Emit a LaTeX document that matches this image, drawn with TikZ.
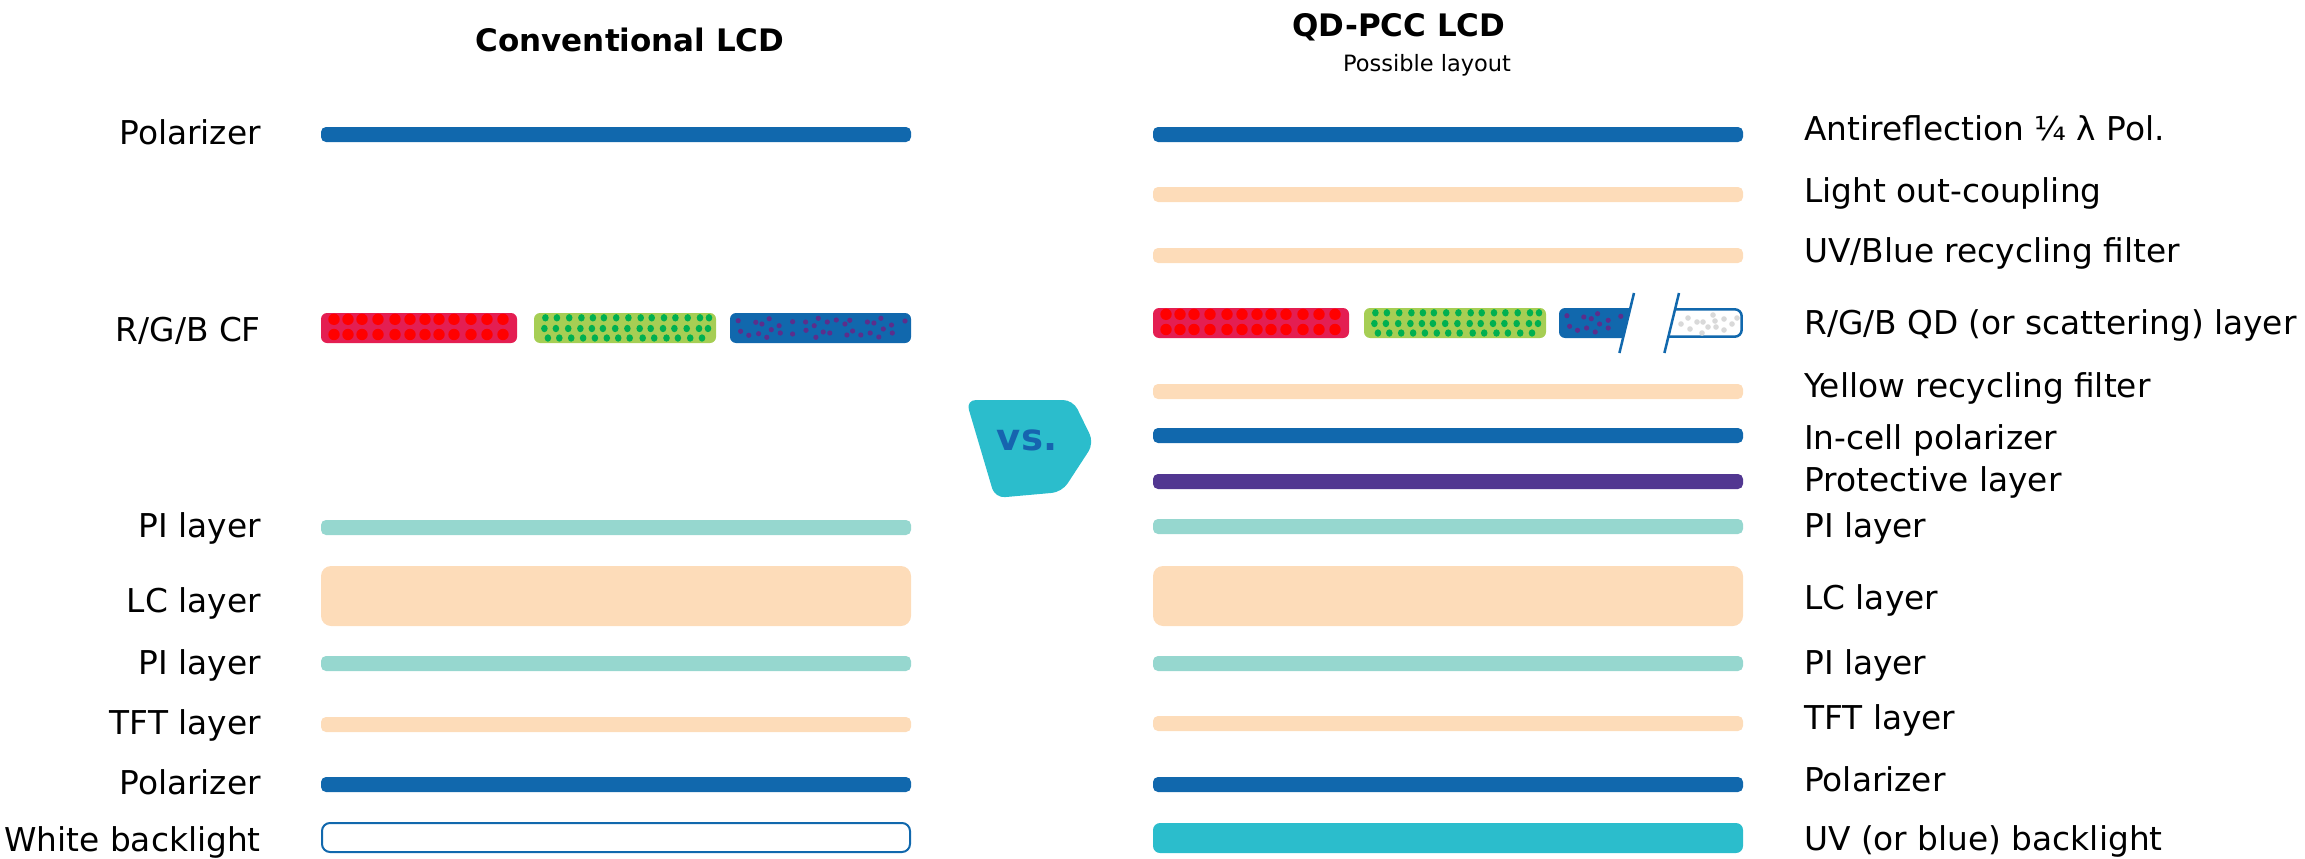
\documentclass[tikz,border=0pt]{standalone}
\usepackage{fontspec}
\setmainfont{DejaVu Sans}
\definecolor{polblue}{RGB}{17,104,173}
\definecolor{peach}{RGB}{253,220,185}
\definecolor{piteal}{RGB}{150,215,207}
\definecolor{protpurple}{RGB}{82,55,145}
\definecolor{blteal}{RGB}{43,189,204}
\definecolor{cfred}{RGB}{228,30,82}
\definecolor{dotred}{RGB}{255,0,0}
\definecolor{cfgreen}{RGB}{166,206,84}
\definecolor{dotgreen}{RGB}{0,176,80}
\definecolor{dotpurple}{RGB}{92,46,140}
\definecolor{dotgray}{RGB}{217,217,217}
\definecolor{vsblue}{RGB}{22,100,175}
\newcommand{\cfRed}[2]{%
  \fill[cfred,rounded corners=6pt] (#1,#2) rectangle ++(196,30);
  \foreach \dx in {13,27,41,57,74,89,104,118,133,150,166,182} {%
    \fill[dotred] ({#1+\dx},{#2+6.3}) circle (5.7pt);
    \fill[dotred] ({#1+\dx},{#2+21.5}) circle (5.7pt);}%
}
\newcommand{\cfGreen}[2]{%
  \fill[cfgreen,rounded corners=6pt] (#1,#2) rectangle ++(182,30);
  \foreach \dx in {11.4,22.9,35.2,47.4,58.9,69.9,82.2,94.4,106.7,117.7,130,141.4,153.7,166,175} {%
    \fill[dotgreen] ({#1+\dx},{#2+4.8}) ellipse (3.3pt and 3.7pt);
    \fill[dotgreen] ({#1+\dx-1},{#2+15.5}) ellipse (3.3pt and 3.7pt);}%
  \foreach \dx in {13.9,25.3,37.2,49.1,60.9,72.8,84.2,95.7,108.7,120.2,132.5,143.9,156.2,168} {%
    \fill[dotgreen] ({#1+\dx},{#2+25}) ellipse (3.3pt and 3.7pt);}%
}
\begin{document}
\begin{tikzpicture}[x=1pt,y=-1pt,
  bar/.style={rounded corners=5pt},
  lbl/.style={anchor=base east, font=\fontsize{32.8}{38}\selectfont, inner sep=0pt},
  rlbl/.style={anchor=base west, font=\fontsize{32.8}{38}\selectfont, inner sep=0pt},
  pdot/.style={fill=dotpurple},
]
\useasboundingbox (0,0) rectangle (2305,859);

% titles
\node[anchor=base, font=\fontsize{31}{36}\selectfont\bfseries, inner sep=0pt] (t1) at (630,52) {Conventional LCD};
\node[anchor=base, font=\fontsize{31}{36}\selectfont\bfseries, inner sep=0pt] (t2) at (1399,37) {QD-PCC LCD};
\node[anchor=base, font=\fontsize{22.5}{26}\selectfont, inner sep=0pt] (t3) at (1427,71) {Possible layout};

% ---------- left stack ----------
\fill[polblue,bar] (321,127) rectangle (911,142);
\cfRed{321}{313}
\cfGreen{534}{313}
\fill[polblue,rounded corners=6pt] (730,313) rectangle (911,343);
\foreach \px/\py in {8.2/7.7, 10.6/18.3, 18.8/22.3, 25.8/9.3, 28.6/20.7, 31.9/11, 36.8/24.3, 39.2/5.7, 41.3/16.7, 49.1/12.7, 50.3/20, 62.6/8.7, 62.6/21, 75.6/9, 76/17.3, 84.2/12.7, 85.9/24.3, 88.3/5.3, 93.2/19, 97.3/9, 99.8/20, 106.3/7, 114.9/11, 116.9/22, 119.8/7.3, 122.6/18, 130.8/22, 137.4/9, 140.2/20, 143.9/10, 148.8/24, 150.9/5.3, 153.3/16, 161.5/12, 162.3/20, 175/8}
  \fill[pdot] ({730+\px},{313+\py}) circle (2.6pt);
\fill[piteal,bar] (321,520) rectangle (911,535);
\fill[peach,rounded corners=10pt] (321,566) rectangle (911,626);
\fill[piteal,bar] (321,656) rectangle (911,671);
\fill[peach,bar] (321,717) rectangle (911,732);
\fill[polblue,bar] (321,777) rectangle (911,792);
\draw[polblue,line width=2pt,rounded corners=8pt] (322,823) rectangle (910,852);

\node[lbl] (l1) at (261,144) {Polarizer};
\node[lbl] (l2) at (261,341) {R/G/B CF};
\node[lbl] (l3) at (261,537) {PI layer};
\node[lbl] (l4) at (261,612) {LC layer};
\node[lbl] (l5) at (261,674) {PI layer};
\node[lbl] (l6) at (261,734) {TFT layer};
\node[lbl] (l7) at (261,794) {Polarizer};
\node[lbl] (l8) at (261,851) {White backlight};

% ---------- vs badge ----------
\fill[blteal,rounded corners=10pt] (966,400) -- (1073,400) -- (1094,443) -- (1062,492) -- (995,498) -- cycle;
\node[text=vsblue, font=\fontsize{37}{37}\selectfont\bfseries, inner sep=0pt] (vs) at (1027,440) {vs.};

% ---------- right stack ----------
\fill[polblue,bar] (1153,127) rectangle (1743,142);
\fill[peach,bar] (1153,187) rectangle (1743,202);
\fill[peach,bar] (1153,248) rectangle (1743,263);
\cfRed{1153}{308}
\cfGreen{1364}{308}
\begin{scope}
  \clip (1550,285) -- (1635.9,285) -- (1617.5,361) -- (1550,361) -- cycle;
  \fill[polblue,rounded corners=6pt] (1559,308) rectangle (1660,338);
  \foreach \px/\py in {7.9/7.7, 10.6/18.3, 18.5/22.3, 24.8/9, 27.6/20, 32.3/10.7, 36.2/24, 38.6/5.7, 40.6/16, 49.2/12.3, 49.2/20, 61.8/8.3}
    \fill[pdot] ({1559+\px},{308+\py}) circle (2.6pt);
\end{scope}
\begin{scope}
  \clip (1680.9,285) -- (1760,285) -- (1760,361) -- (1662.5,361) -- cycle;
  \draw[polblue,line width=2.5pt,fill=white,rounded corners=7pt] (1640,309.3) rectangle (1741.7,336.7);
  \foreach \px/\py in {1681/324, 1688/318, 1690/329, 1697/322, 1702/333, 1703/322, 1708/327, 1713/315, 1715/321, 1716/327, 1724/319, 1724/330, 1732/324, 1737/318}
    \fill[dotgray] (\px,\py) circle (2.8pt);
\end{scope}
\coordinate (s1a) at (1634,293);
\coordinate (s1b) at (1619.4,353);
\coordinate (s2a) at (1679,293);
\coordinate (s2b) at (1664.4,353);
\draw[polblue,line width=2.5pt] (s1a) -- (s1b);
\draw[polblue,line width=2.5pt] (s2a) -- (s2b);

\fill[peach,bar] (1153,384) rectangle (1743,399);
\fill[polblue,bar] (1153,428) rectangle (1743,443);
\fill[protpurple,bar] (1153,474) rectangle (1743,489);
\fill[piteal,bar] (1153,519) rectangle (1743,534);
\fill[peach,rounded corners=10pt] (1153,566) rectangle (1743,626);
\fill[piteal,bar] (1153,656) rectangle (1743,671);
\fill[peach,bar] (1153,716) rectangle (1743,731);
\fill[polblue,bar] (1153,777) rectangle (1743,792);
\fill[blteal,rounded corners=7pt] (1153,823) rectangle (1743,853);

\node[rlbl] (r1) at (1804,140) {Antireflection ¼ λ Pol.};
\node[rlbl] (r2) at (1804,202) {Light out-coupling};
\node[rlbl] (r3) at (1804,262) {UV/Blue recycling filter};
\node[rlbl] (r4) at (1804,334) {R/G/B QD (or scattering) layer};
\node[rlbl] (r5) at (1804,397) {Yellow recycling filter};
\node[rlbl] (r6) at (1804,449) {In-cell polarizer};
\node[rlbl] (r7) at (1804,491) {Protective layer};
\node[rlbl] (r8) at (1804,537) {PI layer};
\node[rlbl] (r9) at (1804,609) {LC layer};
\node[rlbl] (r10) at (1804,674) {PI layer};
\node[rlbl] (r11) at (1804,729) {TFT layer};
\node[rlbl] (r12) at (1804,791) {Polarizer};
\node[rlbl] (r13) at (1804,850) {UV (or blue) backlight};
\end{tikzpicture}
\end{document}
